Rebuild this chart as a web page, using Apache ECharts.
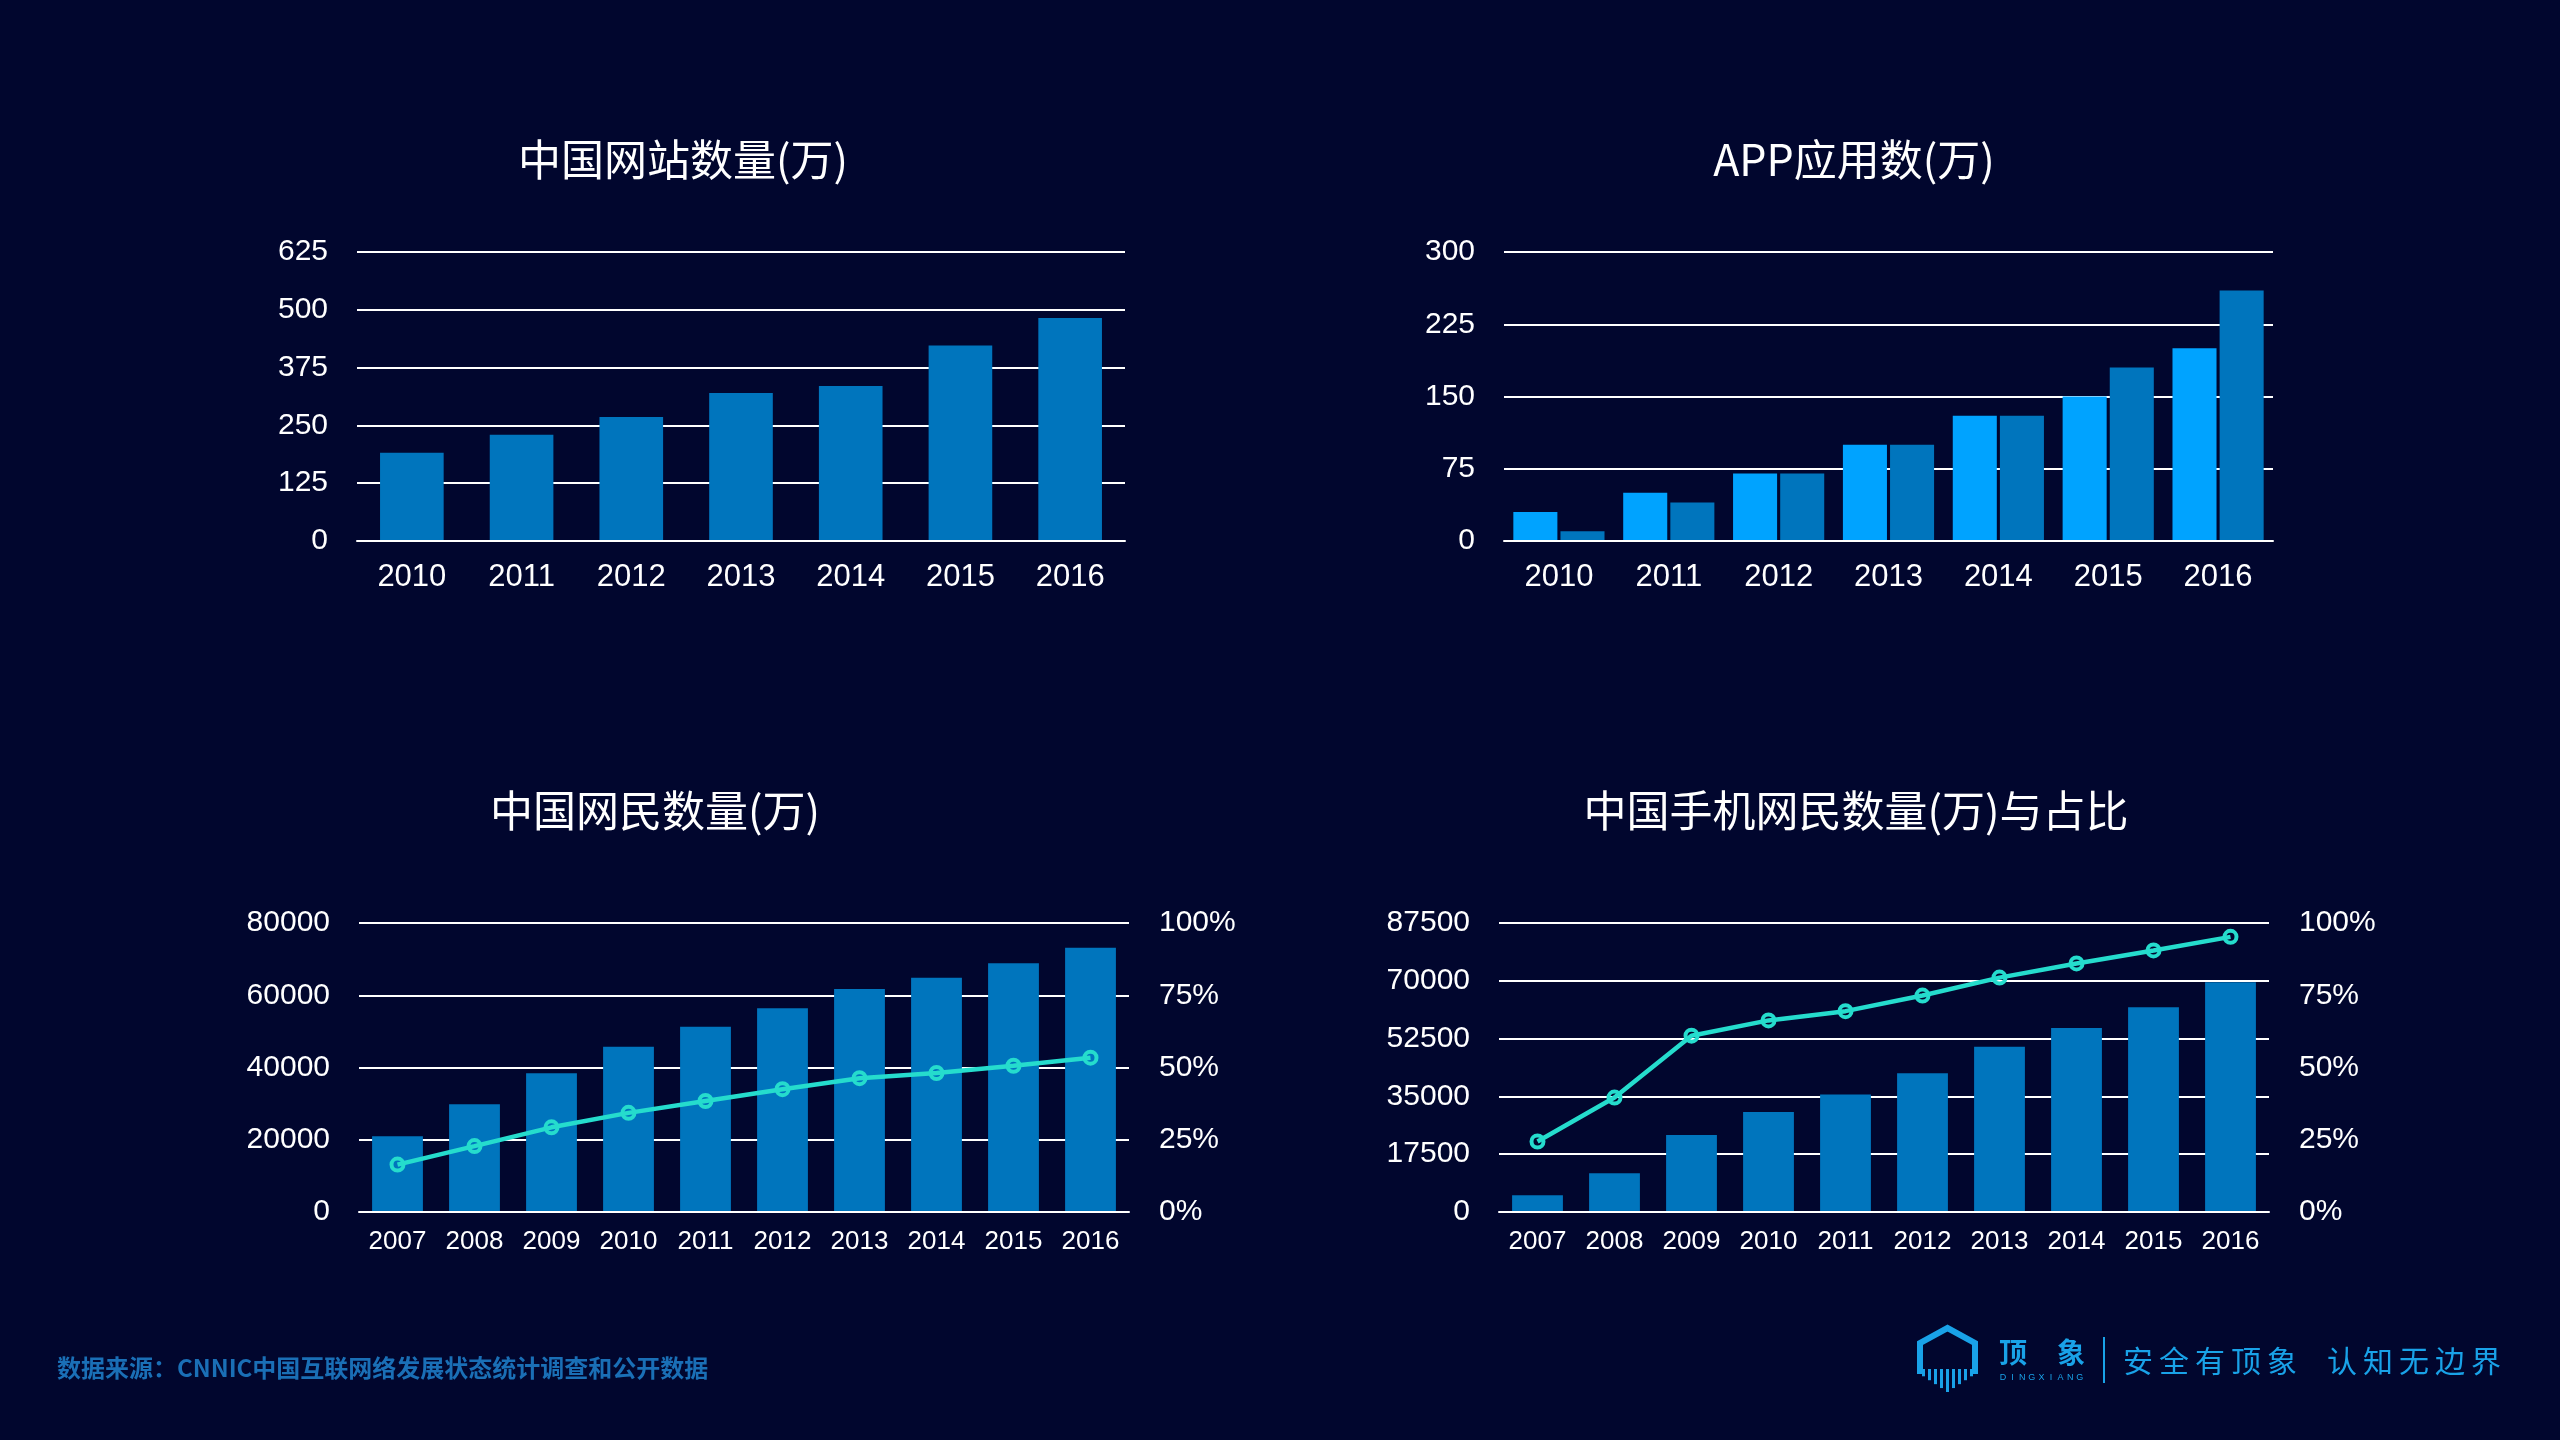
<!DOCTYPE html>
<html>
<head>
<meta charset="utf-8">
<script src="https://cdn.jsdelivr.net/npm/echarts@6/dist/echarts.min.js"></script>
<style>
html,body{margin:0;padding:0;background:#01062e;}
#chart{width:2560px;height:1440px;}
</style>
</head>
<body>
<div id="chart"></div>
<script>
// ---- data ----
const yearsTop = ['2010','2011','2012','2013','2014','2015','2016'];
const websites = [191, 230, 268, 320, 335, 423, 482];
const appsA = [30, 50, 70, 100, 130, 150, 200];
const appsB = [10, 40, 70, 100, 130, 180, 260];
const yearsBottom = ['2007','2008','2009','2010','2011','2012','2013','2014','2015','2016'];
const netizens = [21000, 29800, 38400, 45730, 51310, 56400, 61758, 64875, 68826, 73125];
const netizenRate = [16.4, 22.8, 29.3, 34.3, 38.4, 42.5, 46.3, 48.1, 50.6, 53.4];
const mobileUsers = [5040, 11760, 23344, 30274, 35558, 41997, 50006, 55678, 61981, 69531];
const mobileRate = [24.4, 39.6, 61.0, 66.3, 69.5, 74.9, 81.1, 86.0, 90.5, 95.2];
const titles = ['中国网站数量(万)', 'APP应用数(万)', '中国网民数量(万)', '中国手机网民数量(万)与占比'];
const sourceText = '数据来源：CNNIC中国互联网络发展状态统计调查和公开数据';
const brandName = ['顶', '象'];
const brandSub = 'DINGXIANG';
const sloganParts = ['安全有顶象', '认知无边界'];

// ---- styles ----
const BG = '#01062e';
const DARK = '#0075bd';
const LIGHT = '#00a3ff';
const LINE = '#25dccd';
const BRAND = '#19a2e8';
const NUM_FONT = '"Liberation Sans", Arial, sans-serif';
const CJK_FONT = '"Noto Sans CJK SC", sans-serif';

function yAxisCfg(grid, max, interval, opts) {
  opts = opts || {};
  return Object.assign({
    type: 'value', gridIndex: grid, min: 0, max: max, interval: interval,
    axisLine: {show: false}, axisTick: {show: false},
    axisLabel: {color: '#fff', fontSize: 30, fontFamily: NUM_FONT, margin: 29, formatter: v => String(v)},
    splitLine: {show: true, lineStyle: {color: '#ffffff', width: 2}}
  }, opts);
}
function xAxisCfg(grid, data, fontSize, margin) {
  return {
    type: 'category', gridIndex: grid, data: data, z: 5,
    axisLine: {show: true, lineStyle: {color: '#ffffff', width: 2}},
    axisTick: {show: false},
    axisLabel: {color: '#fff', fontSize: fontSize, fontFamily: NUM_FONT, margin: margin}
  };
}

const chart = echarts.init(document.getElementById('chart'), null, {width: 2560, height: 1440});

// footer & logo graphic pieces
const graphics = [];
graphics.push({
  type: 'text', x: 57, y: 1368,
  style: {text: sourceText, fill: '#1a6fb6', font: 'bold 24px ' + CJK_FONT, textAlign: 'left', textVerticalAlign: 'middle'}
});
graphics.push({
  type: 'polyline',
  shape: {points: [[1920, 1374], [1920, 1343], [1947.5, 1328], [1975, 1343], [1975, 1374]]},
  style: {stroke: BRAND, lineWidth: 6, fill: null, lineJoin: 'miter'}
});
for (let i = 0; i < 9; i++) {
  const xc = 1923.5 + i * 6;
  const d = Math.abs(xc - 1947.5) / 27.5;
  const bottom = 1374 + 18 * (1 - d);
  graphics.push({type: 'rect', shape: {x: xc - 1.5, y: 1369, width: 3, height: bottom - 1369}, style: {fill: BRAND}});
}
graphics.push({type: 'text', x: 1999, y: 1352, style: {text: brandName[0], fill: BRAND, font: 'bold 28px ' + CJK_FONT, textAlign: 'left', textVerticalAlign: 'middle'}});
graphics.push({type: 'text', x: 2057, y: 1352, style: {text: brandName[1], fill: BRAND, font: 'bold 28px ' + CJK_FONT, textAlign: 'left', textVerticalAlign: 'middle'}});
for (let i = 0; i < brandSub.length; i++) {
  graphics.push({type: 'text', x: 2003 + i * 9.6, y: 1378, style: {text: brandSub[i], fill: BRAND, font: '9px ' + NUM_FONT, textAlign: 'center', textVerticalAlign: 'middle'}});
}
graphics.push({type: 'rect', shape: {x: 2103, y: 1337, width: 2, height: 46}, style: {fill: BRAND}});
const sloganStarts = [2123, 2327];
sloganParts.forEach((part, p) => {
  for (let i = 0; i < part.length; i++) {
    graphics.push({type: 'text', x: sloganStarts[p] + i * 36, y: 1361, style: {text: part[i], fill: BRAND, font: '30px ' + CJK_FONT, textAlign: 'left', textVerticalAlign: 'middle'}});
  }
});

const titlePos = [[678, 161], [1849, 161], [650, 812], [1851, 812]];

const option = {
  backgroundColor: BG,
  animation: false,
  title: titles.map((t, i) => ({
    text: t, left: titlePos[i][0], top: titlePos[i][1] - 28, textAlign: 'center',
    textStyle: {color: '#fff', fontSize: 43, fontWeight: 'normal', fontFamily: CJK_FONT}
  })),
  grid: [
    {left: 357, width: 768, top: 252, height: 289},
    {left: 1504, width: 769, top: 252, height: 289},
    {left: 359, width: 770, top: 923, height: 289},
    {left: 1499, width: 770, top: 923, height: 289}
  ],
  xAxis: [
    xAxisCfg(0, yearsTop, 31, 21),
    xAxisCfg(1, yearsTop, 31, 21),
    xAxisCfg(2, yearsBottom, 26, 17),
    xAxisCfg(3, yearsBottom, 26, 17)
  ],
  yAxis: [
    yAxisCfg(0, 625, 125),
    yAxisCfg(1, 300, 75),
    yAxisCfg(2, 80000, 20000),
    yAxisCfg(2, 100, 25, {position: 'right', splitLine: {show: false}, axisLabel: {color: '#fff', fontSize: 30, fontFamily: NUM_FONT, margin: 30, formatter: '{value}%'}}),
    yAxisCfg(3, 87500, 17500),
    yAxisCfg(3, 100, 25, {position: 'right', splitLine: {show: false}, axisLabel: {color: '#fff', fontSize: 30, fontFamily: NUM_FONT, margin: 30, formatter: '{value}%'}})
  ],
  series: [
    {type: 'bar', xAxisIndex: 0, yAxisIndex: 0, data: websites, barCategoryGap: '42%', itemStyle: {color: DARK}},
    {type: 'bar', xAxisIndex: 1, yAxisIndex: 1, data: appsA, barGap: '7%', barCategoryGap: '17%', itemStyle: {color: LIGHT}},
    {type: 'bar', xAxisIndex: 1, yAxisIndex: 1, data: appsB, barGap: '7%', barCategoryGap: '17%', itemStyle: {color: DARK}},
    {type: 'bar', xAxisIndex: 2, yAxisIndex: 2, data: netizens, barCategoryGap: '34%', itemStyle: {color: DARK}},
    {type: 'line', xAxisIndex: 2, yAxisIndex: 3, data: netizenRate, symbol: 'circle', symbolSize: 12, z: 6,
      lineStyle: {color: LINE, width: 4.5}, itemStyle: {color: 'rgba(0,0,0,0)', borderColor: LINE, borderWidth: 4}},
    {type: 'bar', xAxisIndex: 3, yAxisIndex: 4, data: mobileUsers, barCategoryGap: '34%', itemStyle: {color: DARK}},
    {type: 'line', xAxisIndex: 3, yAxisIndex: 5, data: mobileRate, symbol: 'circle', symbolSize: 12, z: 6,
      lineStyle: {color: LINE, width: 4.5}, itemStyle: {color: 'rgba(0,0,0,0)', borderColor: LINE, borderWidth: 4}}
  ],
  graphic: graphics
};
chart.setOption(option);
</script>
</body>
</html>
